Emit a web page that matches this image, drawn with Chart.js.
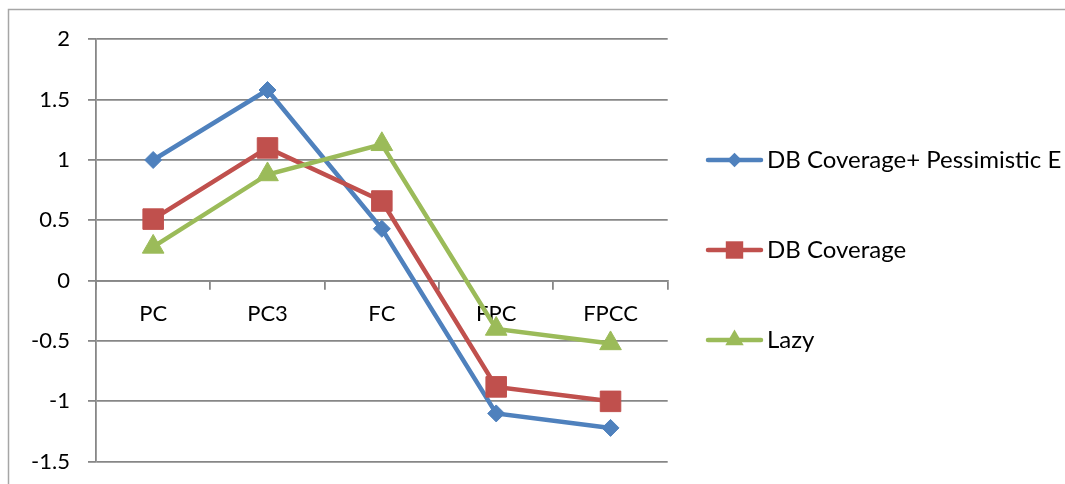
<!DOCTYPE html>
<html>
<head>
<meta charset="utf-8">
<script src="https://cdn.jsdelivr.net/npm/chart.js@4/dist/chart.umd.min.js"></script>
<style>
  html, body { margin: 0; padding: 0; background: #ffffff; }
  #wrap { width: 1065px; height: 484px; position: relative; }
</style>
</head>
<body>
<div id="wrap"><canvas id="c" width="1065" height="484"></canvas></div>
<script>
// Categories along the x axis
const categories = ['PC', 'PC3', 'FC', 'FPC', 'FPCC'];

// Series values
const pessimisticValues = [1.00, 1.58, 0.43, -1.10, -1.22];
const coverageValues    = [0.51, 1.10, 0.66, -0.88, -1.00];
const lazyValues        = [0.28, 0.88, 1.13, -0.40, -0.52];

// Series names
const seriesNames = ['DB Coverage+ Pessimistic E', 'DB Coverage', 'Lazy'];

// Value axis range
const yMin = -1.5;
const yMax = 2;
const yStep = 0.5;

const FONT = 'Lato, "Open Sans", "Liberation Sans", sans-serif';
const GRID = '#878787';

// Shape drawing shared by the custom legend
function drawMarker(ctx, style, x, y, r, color) {
  ctx.save();
  ctx.fillStyle = color;
  ctx.beginPath();
  if (style === 'rectRot') {
    ctx.moveTo(x, y - r); ctx.lineTo(x + r, y); ctx.lineTo(x, y + r); ctx.lineTo(x - r, y);
  } else if (style === 'rect') {
    const s = r * Math.SQRT1_2;
    ctx.rect(x - s, y - s, 2 * s, 2 * s);
  } else if (style === 'triangle') {
    ctx.moveTo(x, y - r);
    ctx.lineTo(x + r * Math.sin(2 * Math.PI / 3), y - r * Math.cos(2 * Math.PI / 3));
    ctx.lineTo(x + r * Math.sin(4 * Math.PI / 3), y - r * Math.cos(4 * Math.PI / 3));
  }
  ctx.closePath();
  ctx.fill();
  ctx.restore();
}

// Outer frame and legend on the right
const framePlugin = {
  id: 'frameAndLegend',
  beforeDraw(chart) {
    const ctx = chart.ctx;
    ctx.save();
    ctx.strokeStyle = '#a6a6a6';
    ctx.lineWidth = 1.5;
    ctx.beginPath();
    ctx.moveTo(8.5, chart.height);
    ctx.lineTo(8.5, 9.5);
    ctx.lineTo(chart.width, 9.5);
    ctx.stroke();
    ctx.restore();
  },
  afterDraw(chart) {
    const ctx = chart.ctx;
    ctx.save();
    chart.data.datasets.forEach((ds, i) => {
      const y = 160 + i * 90;
      ctx.strokeStyle = ds.borderColor;
      ctx.lineWidth = 4.5;
      ctx.lineCap = 'round';
      ctx.beginPath();
      ctx.moveTo(708, y);
      ctx.lineTo(761, y);
      ctx.stroke();
      drawMarker(ctx, ds.pointStyle, 734.5, y, ds.pointRadius * 0.85, ds.borderColor);
      ctx.fillStyle = '#000000';
      ctx.font = '24px ' + FONT;
      ctx.textBaseline = 'middle';
      ctx.textAlign = 'left';
      ctx.fillText(ds.label, 767, y);
    });
    ctx.restore();
  }
};

const ds = (label, data, color, style, radius, order) => ({
  label, data,
  borderColor: color,
  backgroundColor: color,
  borderWidth: 4.5,
  tension: 0,
  pointStyle: style,
  pointRadius: radius,
  pointHoverRadius: radius,
  pointBorderWidth: 1,
  pointBackgroundColor: color,
  pointBorderColor: color,
  order
});

new Chart(document.getElementById('c'), {
  type: 'line',
  data: {
    labels: categories,
    datasets: [
      ds(seriesNames[0], pessimisticValues, '#4f81bd', 'rectRot', 8.5, 2),
      ds(seriesNames[1], coverageValues, '#c0504d', 'rect', 14.5, 1),
      ds(seriesNames[2], lazyValues, '#9bbb59', 'triangle', 12.5, 0)
    ]
  },
  options: {
    responsive: false,
    animation: false,
    events: [],
    layout: { padding: { top: 39.3, right: 397.3, bottom: 22.3, left: 0 } },
    plugins: {
      legend: { display: false },
      tooltip: { enabled: false },
      title: { display: false }
    },
    scales: {
      x: {
        type: 'category',
        position: { y: 0 },
        offset: true,
        grid: {
          display: true,
          offset: true,
          drawOnChartArea: false,
          drawTicks: true,
          tickLength: 8,
          color: GRID,
          lineWidth: 1.8
        },
        border: { display: true, color: GRID, width: 1.8 },
        ticks: {
          color: '#000000',
          font: { family: FONT, size: 22 },
          padding: 12,
          maxRotation: 0,
          autoSkip: false
        }
      },
      y: {
        min: yMin,
        max: yMax,
        afterFit(scale) {
          scale.width = 96;
          scale.paddingTop = 0;
          scale.paddingBottom = 0;
        },
        grid: {
          color: GRID,
          lineWidth: 1.8,
          drawTicks: true,
          tickLength: 8
        },
        border: { display: true, color: GRID, width: 1.8 },
        ticks: {
          stepSize: yStep,
          color: '#000000',
          font: { family: FONT, size: 22 },
          padding: 18,
          callback: (v) => String(v)
        }
      }
    }
  },
  plugins: [framePlugin]
});
</script>
</body>
</html>
